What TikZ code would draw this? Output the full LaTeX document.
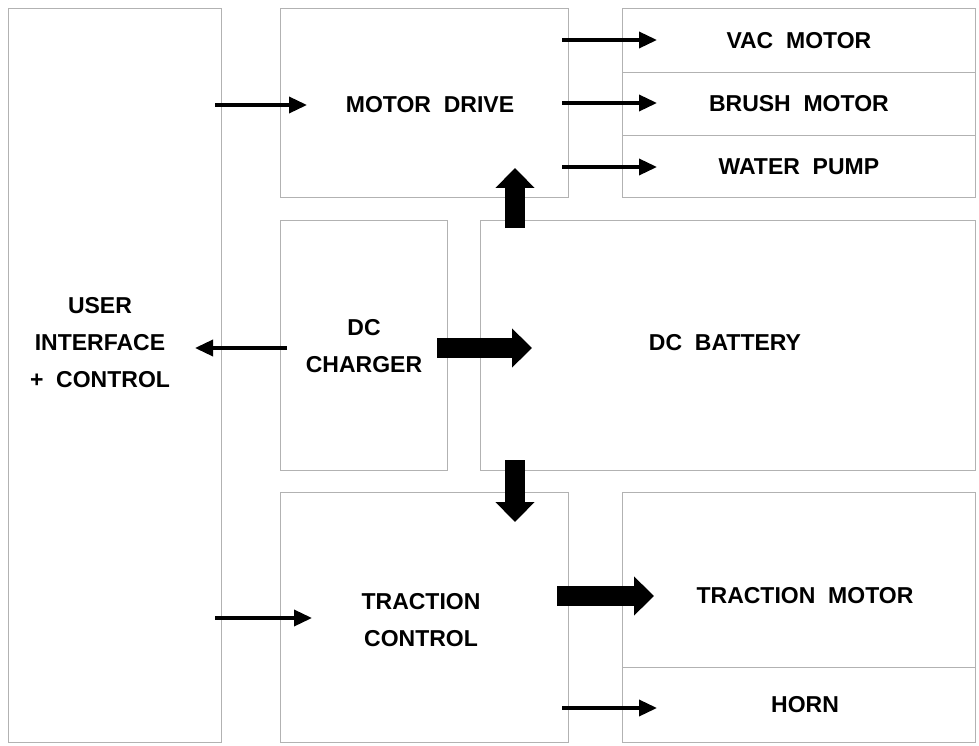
\documentclass[tikz,border=0pt]{standalone}
\usepackage{fontspec}
\setmainfont{Liberation Sans}
\usetikzlibrary{arrows.meta}
\begin{document}
\begin{tikzpicture}[x=1pt, y=-1pt, font=\bfseries\fontsize{23}{37}\selectfont, >=Latex]
      \tikzset{
        block/.style={draw=black!30, line width=0.8pt, align=center, anchor=north west, inner sep=0pt},
        thin/.style={-{Triangle[length=18pt, width=16pt]}, line width=3.5pt},
        fat/.style={-{Triangle[length=20pt, width=38pt]}, line width=20pt}
      }
      \useasboundingbox (0,0) rectangle (979,746);
      \node[block, minimum width=213pt, minimum height=734pt] (ui) at (8,8) {};
      \node (uitext) at (100,343) [align=center] {USER\\INTERFACE\\+\ \ CONTROL};
      \node[block, minimum width=288pt, minimum height=189pt] (drive) at (280,8) {};
      \node (drivetext) at (430,105) {MOTOR\ \ DRIVE};
      \node[block, minimum width=353pt, minimum height=64pt] (vac) at (622,8) {VAC\ \ MOTOR};
      \node[block, minimum width=353pt, minimum height=63pt] (brush) at (622,72) {BRUSH\ \ MOTOR};
      \node[block, minimum width=353pt, minimum height=62pt] (pump) at (622,135) {WATER\ \ PUMP};
      \node[block, minimum width=167pt, minimum height=250pt] (charger) at (280,220) {};
      \node (chargertext) at (364,346) [align=center] {DC\\CHARGER};
      \node[block, minimum width=495pt, minimum height=250pt] (battery) at (480,220) {};
      \node (batterytext) at (725,343) {DC\ \ BATTERY};
      \node[block, minimum width=288pt, minimum height=250pt] (traction) at (280,492) {};
      \node (tractiontext) at (421,620) [align=center] {TRACTION\\CONTROL};
      \node[block, minimum width=353pt, minimum height=175pt] (tmotor) at (622,492) {};
      \node (tmotortext) at (805,596) {TRACTION\ \ MOTOR};
      \node[block, minimum width=353pt, minimum height=75pt] (horn) at (622,667) {};
      \node (horntext) at (805,705) {HORN};

      \coordinate (a1) at (215,105);  \coordinate (b1) at (307,105);
      \coordinate (a2) at (215,618);  \coordinate (b2) at (312,618);
      \coordinate (a3) at (287,348);  \coordinate (b3) at (195,348);
      \coordinate (o1) at (562,40);   \coordinate (p1) at (657,40);
      \coordinate (o2) at (562,103);  \coordinate (p2) at (657,103);
      \coordinate (o3) at (562,167);  \coordinate (p3) at (657,167);
      \coordinate (o4) at (562,708);  \coordinate (p4) at (657,708);
      \draw[thin] (a1) -- (b1);
      \draw[thin] (a2) -- (b2);
      \draw[thin] (a3) -- (b3);
      \draw[thin] (o1) -- (p1);
      \draw[thin] (o2) -- (p2);
      \draw[thin] (o3) -- (p3);
      \draw[thin] (o4) -- (p4);
      \draw[fat] (515,228) -- (515,168);
      \draw[fat] (437,348) -- (532,348);
      \draw[fat] (515,460) -- (515,522);
      \draw[fat] (557,596) -- (654,596);
\end{tikzpicture}
\end{document}
